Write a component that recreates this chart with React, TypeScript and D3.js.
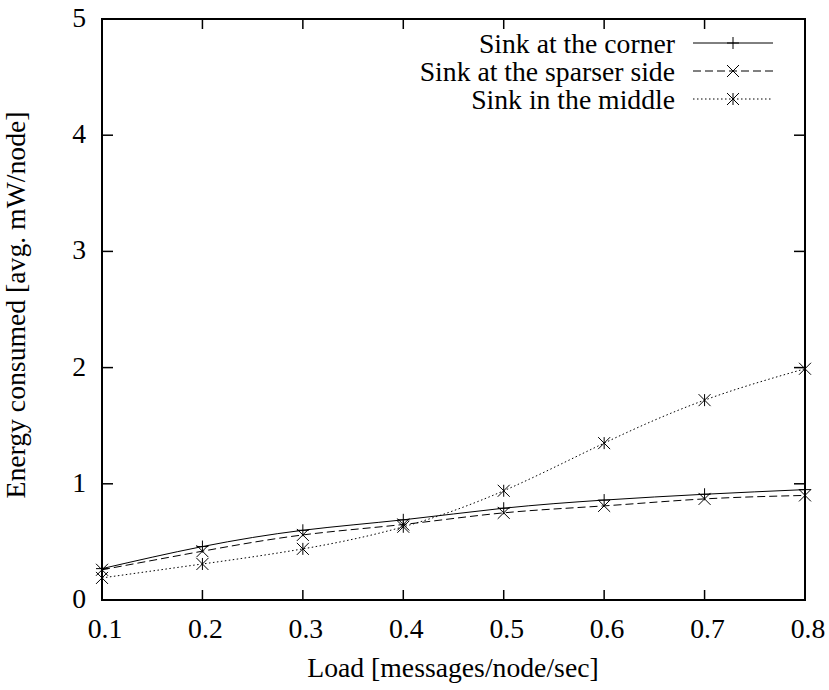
import React from "react";
import * as d3 from "d3";

const loads = [0.1, 0.2, 0.3, 0.4, 0.5, 0.6, 0.7, 0.8];
const cornerValues = [0.27, 0.46, 0.6, 0.69, 0.79, 0.86, 0.91, 0.95];
const sparserValues = [0.26, 0.42, 0.56, 0.65, 0.75, 0.81, 0.87, 0.9];
const middleValues = [0.19, 0.31, 0.44, 0.63, 0.94, 1.35, 1.72, 1.99];
const seriesNames = ["Sink at the corner", "Sink at the sparser side", "Sink in the middle"];
const xTicks = [0.1, 0.2, 0.3, 0.4, 0.5, 0.6, 0.7, 0.8];
const yTicks = [0, 1, 2, 3, 4, 5];

const W = 829, H = 690;
const L = 102, R = 805, T = 19, B = 600;
const FONT = "Liberation Serif";

function Marker({ type, x, y }: { type: string; x: number; y: number }) {
  const s = 6;
  const cross = <path d={`M${x - s},${y - s}L${x + s},${y + s}M${x - s},${y + s}L${x + s},${y - s}`} />;
  if (type === "plus") return <path d={`M${x - s},${y}H${x + s}M${x},${y - s}V${y + s}`} />;
  if (type === "cross") return cross;
  return (
    <g>
      <path d={`M${x},${y - s}V${y + s}`} />
      {cross}
    </g>
  );
}

export default function App() {
  const x = d3.scaleLinear().domain([0.1, 0.8]).range([L, R]);
  const y = d3.scaleLinear().domain([0, 5]).range([B, T]);
  const line = d3
    .line<[number, number]>()
    .x((d) => x(d[0]))
    .y((d) => y(d[1]))
    .curve(d3.curveNatural);

  const series = [
    { name: seriesNames[0], values: cornerValues, dash: "none", marker: "plus" },
    { name: seriesNames[1], values: sparserValues, dash: "8,4", marker: "cross" },
    { name: seriesNames[2], values: middleValues, dash: "1.5,2.5", marker: "star" },
  ];

  const legendY = [43, 71, 99];
  const textStyle = { fontFamily: FONT, fontSize: 27.7 } as React.CSSProperties;

  return (
    <svg width={W} height={H} style={{ position: "absolute", left: 0, top: 0, background: "#fff" }}>
      <rect x={0} y={0} width={W} height={H} fill="#fff" />
      <g stroke="#000" strokeWidth={1.5}>
        {xTicks.map((t) => (
          <g key={"xt" + t}>
            <line x1={x(t)} x2={x(t)} y1={B} y2={B - 10} />
            <line x1={x(t)} x2={x(t)} y1={T} y2={T + 10} />
          </g>
        ))}
        {yTicks.map((t) => (
          <g key={"yt" + t}>
            <line x1={L} x2={L + 11} y1={y(t)} y2={y(t)} />
            <line x1={R} x2={R - 11} y1={y(t)} y2={y(t)} />
          </g>
        ))}
      </g>
      <g fill="#000">
        {xTicks.map((t) => (
          <text key={"xl" + t} x={x(t) + 3} y={638} textAnchor="middle" style={textStyle}>
            {d3.format(".1f")(t)}
          </text>
        ))}
        {yTicks.map((t) => (
          <text key={"yl" + t} x={86} y={y(t) + 8} textAnchor="end" style={textStyle}>
            {t}
          </text>
        ))}
        <text x={453} y={677} textAnchor="middle" style={textStyle}>
          Load [messages/node/sec]
        </text>
        <text transform={`translate(25,305) rotate(-90)`} textAnchor="middle" style={textStyle}>
          Energy consumed [avg. mW/node]
        </text>
      </g>
      {series.map((s) => (
        <g key={s.name} stroke="#000" fill="none" strokeWidth={1}>
          <path
            d={line(loads.map((l, i) => [l, s.values[i]] as [number, number])) || ""}
            strokeDasharray={s.dash}
          />
          {loads.map((l, i) => (
            <Marker key={i} type={s.marker} x={x(l)} y={y(s.values[i])} />
          ))}
        </g>
      ))}
      {series.map((s, i) => (
        <g key={"lg" + i}>
          <text x={675} y={legendY[i] + 10} textAnchor="end" fill="#000" style={textStyle}>
            {s.name}
          </text>
          <g stroke="#000" fill="none" strokeWidth={1}>
            <line x1={693} x2={773} y1={legendY[i]} y2={legendY[i]} strokeDasharray={s.dash} />
            <Marker type={s.marker} x={733} y={legendY[i]} />
          </g>
        </g>
      ))}
      <rect x={L} y={T} width={R - L} height={B - T} fill="none" stroke="#000" strokeWidth={2} />
    </svg>
  );
}
